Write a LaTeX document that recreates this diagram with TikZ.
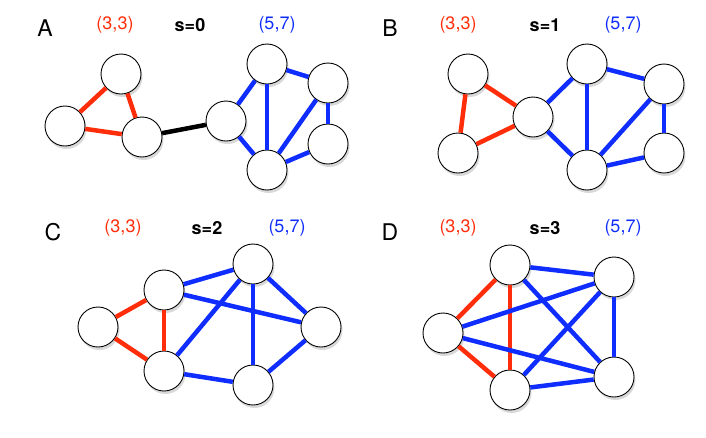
\documentclass[tikz,border=0pt]{standalone}
\usepackage{fontspec}
\setmainfont{TeX Gyre Heros}
\usepackage{xcolor}
\usepackage{tikz}
\usetikzlibrary{shadows}

\definecolor{netred}{RGB}{255,45,10}
\definecolor{netblue}{RGB}{15,45,255}

\begin{document}
\begin{tikzpicture}[x=1pt, y=-1pt,
    vertex/.style={circle, draw, fill=white, minimum size=40pt, inner sep=0pt, line width=0.9pt,
        drop shadow={opacity=0.3, shadow xshift=1.5pt, shadow yshift=-3pt}},
    redge/.style={draw=netred, line width=4.5pt},
    bedge/.style={draw=netblue, line width=4.5pt},
    kedge/.style={draw=black, line width=4.5pt},
    panel/.style={font=\fontsize{23}{23}\selectfont},
    count/.style={font=\fontsize{18}{18}\selectfont},
    sval/.style={font=\bfseries\fontsize{18}{18}\selectfont}]

    \useasboundingbox (0,0) rectangle (706,437);

    % A: s=0
    \node [panel] (labA) at (45,28) {A};
    \node [count, text=netred] (redA) at (115,25) {(3,3)};
    \node [sval] (sA) at (190,25) {s=0};
    \node [count, text=netblue] (blueA) at (277,25) {(5,7)};
    \node [vertex] (a1) at (121,74) {};
    \node [vertex] (a2) at (65,126) {};
    \node [vertex] (a3) at (142,137) {};
    \node [vertex] (a4) at (226,121) {};
    \node [vertex] (a5) at (267,64) {};
    \node [vertex] (a6) at (328,83) {};
    \node [vertex] (a7) at (328,144) {};
    \node [vertex] (a8) at (267,170) {};
    \foreach \u/\v in {a1/a2, a1/a3, a2/a3}
        \draw [redge] (\u) -- (\v);
    \draw [kedge] (a3) -- (a4);
    \foreach \u/\v in {a4/a5, a4/a8, a5/a8, a5/a6, a6/a8, a6/a7, a7/a8}
        \draw [bedge] (\u) -- (\v);

    % B: s=1
    \node [panel] (labB) at (390,28) {B};
    \node [count, text=netred] (redB) at (458,25) {(3,3)};
    \node [sval] (sB) at (545,25) {s=1};
    \node [count, text=netblue] (blueB) at (623,25) {(5,7)};
    \node [vertex] (b1) at (468,74) {};
    \node [vertex] (b2) at (458,153) {};
    \node [vertex] (b3) at (533,117) {};
    \node [vertex] (b4) at (587,64) {};
    \node [vertex] (b5) at (664,84) {};
    \node [vertex] (b6) at (664,153) {};
    \node [vertex] (b7) at (587,170) {};
    \foreach \u/\v in {b1/b2, b1/b3, b2/b3}
        \draw [redge] (\u) -- (\v);
    \foreach \u/\v in {b3/b4, b3/b7, b4/b7, b4/b5, b5/b7, b5/b6, b6/b7}
        \draw [bedge] (\u) -- (\v);

    % C: s=2
    \node [panel] (labC) at (53,232) {C};
    \node [count, text=netred] (redC) at (123,228) {(3,3)};
    \node [sval] (sC) at (207,228) {s=2};
    \node [count, text=netblue] (blueC) at (287,228) {(5,7)};
    \node [vertex] (c1) at (98,327) {};
    \node [vertex] (c2) at (164,290) {};
    \node [vertex] (c3) at (164,371) {};
    \node [vertex] (c4) at (253,264) {};
    \node [vertex] (c5) at (321,327) {};
    \node [vertex] (c6) at (253,385) {};
    \foreach \u/\v in {c1/c2, c1/c3, c2/c3}
        \draw [redge] (\u) -- (\v);
    \foreach \u/\v in {c2/c4, c2/c5, c3/c4, c3/c6, c4/c6, c4/c5, c5/c6}
        \draw [bedge] (\u) -- (\v);

    % D: s=3
    \node [panel] (labD) at (390,232) {D};
    \node [count, text=netred] (redD) at (458,228) {(3,3)};
    \node [sval] (sD) at (545,228) {s=3};
    \node [count, text=netblue] (blueD) at (623,228) {(5,7)};
    \node [vertex] (d1) at (510,265) {};
    \node [vertex] (d2) at (443,333) {};
    \node [vertex] (d3) at (510,390) {};
    \node [vertex] (d4) at (614,277) {};
    \node [vertex] (d5) at (614,377) {};
    \foreach \u/\v in {d1/d2, d1/d3, d2/d3}
        \draw [redge] (\u) -- (\v);
    \foreach \u/\v in {d1/d4, d1/d5, d2/d4, d2/d5, d3/d4, d3/d5, d4/d5}
        \draw [bedge] (\u) -- (\v);
\end{tikzpicture}
\end{document}
